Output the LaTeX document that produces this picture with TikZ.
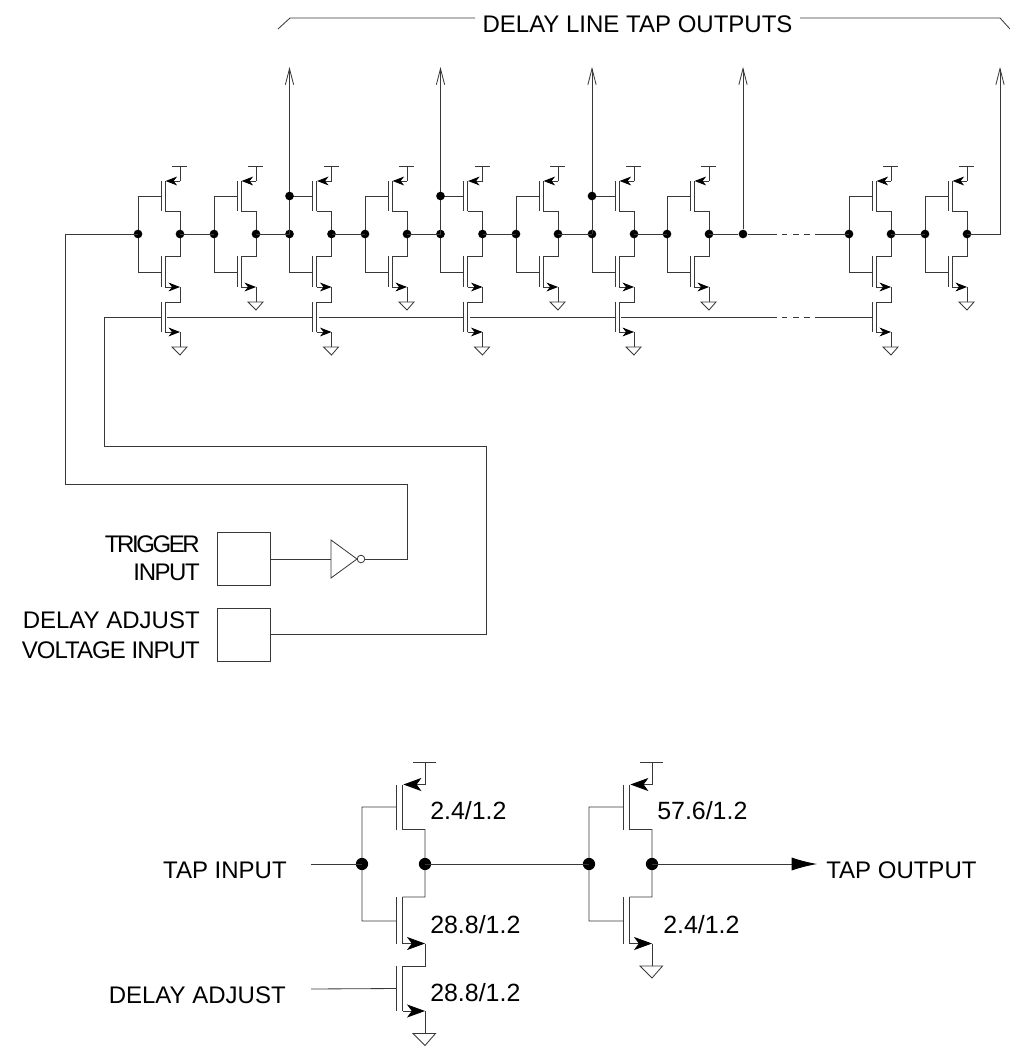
\documentclass[tikz,border=0pt]{standalone}
\usepackage{fontspec}
\setmainfont{Liberation Sans}
\usetikzlibrary{arrows.meta,calc}
\definecolor{wire}{gray}{0.22}
\tikzset{
  wireline/.style={draw=wire,line width=0.62pt,line cap=butt,line join=miter},
  devbar/.style={draw=wire,line width=0.75pt},
  smallcell/.style={>={Stealth[length=8.6pt,width=6.6pt,inset=2.6pt,color=black]}},
  bigcell/.style={scale=1.5,>={Stealth[length=13.5pt,width=9.8pt,inset=3.6pt,color=black]}},
  jointsmall/.style={circle,fill=black,draw=none,inner sep=0pt,minimum size=6.5pt},
  jointbig/.style={circle,fill=black,draw=none,inner sep=0pt,minimum size=9.2pt},
  tapbarb/.style={-{Straight Barb[length=12pt,width=6.2pt,line width=0.62pt]}},
  lbl/.style={inner sep=0pt,font=\fontsize{18pt}{20pt}\selectfont,text=black},
  numlbl/.style={inner sep=0pt,font=\fontsize{18.7pt}{20pt}\selectfont,text=black},
  padbox/.style={draw=wire,line width=0.62pt,minimum size=39.75pt,inner sep=0pt,fill=white},
}
% #1 name, #2 x, #3 y, #4 style, #5 joint style, #6 = 1 when a footer transistor is present
\newcommand{\invcell}[6]{%
\begin{scope}[shift={(#2,#3)},#4]
  \coordinate (#1L) at (0,0);
  \coordinate (#1R) at (42,0);
  \coordinate (#1pg) at (0,-38);
  \coordinate (#1ng) at (0,38);
  % PMOS
  \draw[devbar] (23,-53) -- (23,-23);
  \draw[devbar] (27,-53) -- (27,-23);
  \draw[wireline] (#1L) -- (#1pg) -- (23,-38);
  \draw[wireline,->] (42,-53) -- (27.6,-53);
  \draw[wireline] (34,-68) -- (49,-68);
  \draw[wireline] (42,-68) -- (42,-53);
  \draw[wireline] (27,-23) -- (42,-23) -- (#1R);
  % NMOS
  \draw[devbar] (23,22) -- (23,53);
  \draw[devbar] (27,22) -- (27,53);
  \draw[wireline] (#1L) -- (#1ng) -- (23,38);
  \draw[wireline] (#1R) -- (42,22) -- (27,22);
  \draw[wireline,->] (27,53) -- (42,53);
  \ifnum#6=1
    \draw[devbar] (23,68) -- (23,98);
    \draw[devbar] (27,68) -- (27,98);
    \coordinate (#1fg) at (23,83);
    \coordinate (#1fo) at (29,83);
    \draw[wireline] (42,53) -- (42,68) -- (27,68);
    \draw[wireline,->] (27,98) -- (42,98);
    \draw[wireline] (42,98) -- (42,113);
    \draw[wireline,fill=white] (34,113) -- (49,113) -- (42,121) -- cycle;
  \else
    \draw[wireline] (42,53) -- (42,68);
    \draw[wireline,fill=white] (34,68) -- (49,68) -- (42,76) -- cycle;
  \fi
  \node[#5] (#1dl) at (#1L) {};
  \node[#5] (#1dr) at (#1R) {};
\end{scope}}
\begin{document}
\begin{tikzpicture}[x=0.75pt,y=-0.75pt]
\useasboundingbox (0,0) rectangle (1010,1046);
% ---- delay line
\invcell{a}{138}{234}{smallcell}{jointsmall}{1}
\invcell{b}{214}{234}{smallcell}{jointsmall}{0}
\invcell{c}{289.5}{234}{smallcell}{jointsmall}{1}
\invcell{d}{365}{234}{smallcell}{jointsmall}{0}
\invcell{e}{440.5}{234}{smallcell}{jointsmall}{1}
\invcell{f}{516}{234}{smallcell}{jointsmall}{0}
\invcell{g}{592}{234}{smallcell}{jointsmall}{1}
\invcell{h}{667}{234}{smallcell}{jointsmall}{0}
\invcell{i}{849}{234}{smallcell}{jointsmall}{1}
\invcell{j}{925}{234}{smallcell}{jointsmall}{0}
% links between stages
\draw[wireline] (aR) -- (bL);
\draw[wireline] (bR) -- (cL);
\draw[wireline] (cR) -- (dL);
\draw[wireline] (dR) -- (eL);
\draw[wireline] (eR) -- (fL);
\draw[wireline] (fR) -- (gL);
\draw[wireline] (gR) -- (hL);
\draw[wireline] (iR) -- (jL);
% tap node after h and broken section
\node[jointsmall] (t4) at (743,234) {};
\coordinate (brk1a) at (777,234);
\coordinate (brk1b) at (819,234);
\draw[wireline] (hR) -- (t4) -- (brk1a);
\draw[wireline,dash pattern=on 4.2pt off 4.2pt,dash phase=-3.6pt] (brk1a) -- (brk1b);
\draw[wireline] (brk1b) -- (iL);
% tap outputs
\coordinate (o1) at (289.5,67);
\coordinate (o2) at (440.5,67);
\coordinate (o3) at (592,67);
\coordinate (o4) at (743,67);
\coordinate (o5) at (1000,67);
\coordinate (o5c) at (1000,234);
\draw[wireline,tapbarb] (cL) -- (o1);
\draw[wireline,tapbarb] (eL) -- (o2);
\draw[wireline,tapbarb] (gL) -- (o3);
\draw[wireline,tapbarb] (t4) -- (o4);
\draw[wireline,tapbarb] (jR) -- (o5c) -- (o5);
\node[jointsmall] (jc) at (cpg) {};
\node[jointsmall] (je) at (epg) {};
\node[jointsmall] (jg) at (gpg) {};
% pads
\node[padbox] (pad1) at (243.5,559) {};
\node[padbox] (pad2) at (243.5,634.5) {};
% delay adjust bus
\coordinate (bus1) at (104,317);
\coordinate (bus2) at (104,446);
\coordinate (bus3) at (486,446);
\coordinate (brk2a) at (777,317);
\coordinate (brk2b) at (819,317);
\draw[wireline] (afg) -- (bus1) -- (bus2) -- (bus3) -- (bus3 |- pad2.east) -- (pad2.east);
\draw[wireline] (afo) -- (cfg);
\draw[wireline] (cfo) -- (efg);
\draw[wireline] (efo) -- (gfg);
\draw[wireline] (gfo) -- (brk2a);
\draw[wireline,dash pattern=on 4.2pt off 4.2pt,dash phase=-3.6pt] (brk2a) -- (brk2b);
\draw[wireline] (brk2b) -- (ifg);
% trigger
\draw[wireline] (pad1.east) -- (331,559);
\coordinate (ia) at (331,540);
\coordinate (ib) at (331,578);
\coordinate (ic) at (357,559);
\draw[wireline] (ia) -- (ic) -- (ib) -- cycle;
\node[circle,draw=wire,line width=0.62pt,fill=white,minimum size=5.7pt,inner sep=0pt] (bub) at (361,559) {};
\coordinate (tr1) at (407,559);
\coordinate (tr2) at (407,484);
\coordinate (tr3) at (65,484);
\coordinate (tr4) at (65,234);
\draw[wireline] (bub.east) -- (tr1) -- (tr2) -- (tr3) -- (tr4) -- (aL);
\node[lbl,anchor=base east] (ltrig) at (200,552) {\addfontfeatures{LetterSpace=-10}TRIGGER};
\node[lbl,anchor=base east] (ltrig2) at (200,580) {\addfontfeatures{LetterSpace=-6}INPUT};
\node[lbl,anchor=base east] (ldel) at (200,628) {DELAY ADJUST};
\node[lbl,anchor=base east] (ldel2) at (200,658) {\addfontfeatures{LetterSpace=-4}VOLTAGE INPUT};
% top bracket
\node[lbl,anchor=base] (title) at (637.5,32) {DELAY LINE TAP OUTPUTS};
\coordinate (bl0) at (278,29);
\coordinate (bl1) at (290,18);
\coordinate (bl2) at (475,18);
\coordinate (br0) at (800,18);
\coordinate (br1) at (1000,18);
\coordinate (br2) at (1010,29);
\draw[wireline] (bl0) -- (bl1) -- (bl2);
\draw[wireline] (br0) -- (br1) -- (br2);
% ---- detail
\invcell{p}{362}{864}{bigcell}{jointbig}{1}
\invcell{q}{589}{864}{bigcell}{jointbig}{0}
\coordinate (tin) at (311,864);
\coordinate (tout) at (817,864);
\coordinate (dain) at (311,989);
\draw[wireline] (tin) -- (pL);
\draw[wireline] (pR) -- (qL);
\draw[wireline,-{Latex[length=19pt,width=9.8pt,color=black]}] (qR) -- (tout);
\draw[wireline] (dain) -- (pfg);
\node[lbl,anchor=base east] (ltin) at (287,878) {TAP INPUT};
\node[lbl,anchor=base west] (ltout) at (826,878) {TAP OUTPUT};
\node[lbl,anchor=base east] (lda) at (286,1003) {DELAY ADJUST};
\node[numlbl,anchor=base west] (w1) at (430,819) {2.4/1.2};
\node[numlbl,anchor=base west] (w2) at (430,933) {28.8/1.2};
\node[numlbl,anchor=base west] (w3) at (430,1001) {28.8/1.2};
\node[numlbl,anchor=base west] (w4) at (657,819) {57.6/1.2};
\node[numlbl,anchor=base west] (w5) at (663,933) {2.4/1.2};
\end{tikzpicture}
\end{document}
